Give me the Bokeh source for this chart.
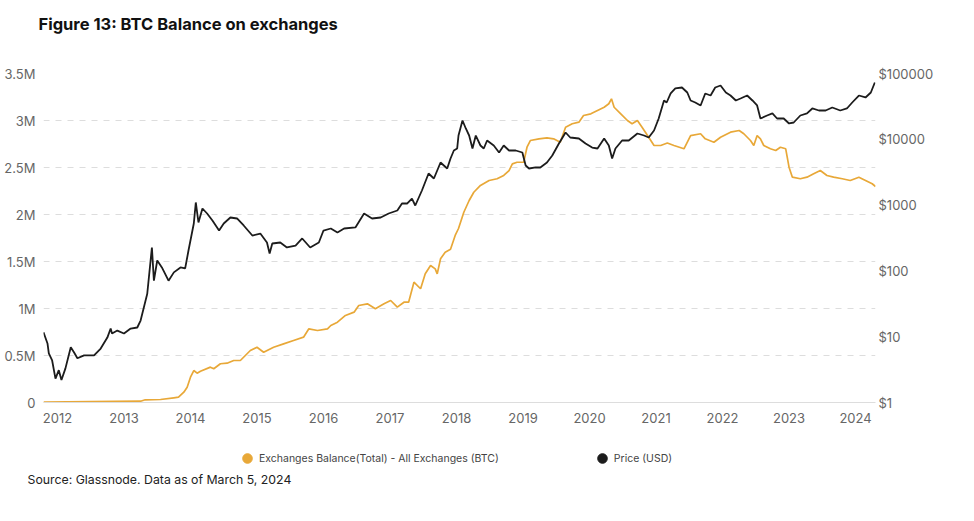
from bokeh.plotting import figure
from bokeh.layouts import column
from bokeh.models import (Range1d, LogScale, LogAxis, FixedTicker, Legend, LegendItem, Title)
from bokeh.embed import file_html
from bokeh.resources import INLINE

# ---- data ----
price_year = [2011.79, 2011.85, 2011.87, 2011.92, 2011.97, 2012.02, 2012.06, 2012.12, 2012.20, 2012.25,
              2012.30, 2012.40, 2012.55, 2012.65, 2012.75, 2012.80, 2012.82, 2012.90, 2013.00, 2013.10,
              2013.20, 2013.25, 2013.35, 2013.42, 2013.45, 2013.50, 2013.57, 2013.67, 2013.75, 2013.85,
              2013.92, 2013.97, 2014.05, 2014.08, 2014.12, 2014.18, 2014.25, 2014.33, 2014.43, 2014.50,
              2014.60, 2014.70, 2014.80, 2014.93, 2015.05, 2015.15, 2015.19, 2015.23, 2015.35, 2015.45,
              2015.58, 2015.68, 2015.80, 2015.93, 2016.00, 2016.11, 2016.21, 2016.31, 2016.48, 2016.61,
              2016.73, 2016.86, 2016.98, 2017.11, 2017.18, 2017.26, 2017.33, 2017.38, 2017.48, 2017.58,
              2017.66, 2017.76, 2017.86, 2017.91, 2017.96, 2018.01, 2018.03, 2018.09, 2018.14, 2018.19,
              2018.24, 2018.29, 2018.36, 2018.41, 2018.46, 2018.56, 2018.64, 2018.71, 2018.79, 2018.89,
              2018.99, 2019.04, 2019.09, 2019.19, 2019.26, 2019.36, 2019.44, 2019.54, 2019.64, 2019.71,
              2019.84, 2019.94, 2020.04, 2020.12, 2020.22, 2020.29, 2020.34, 2020.39, 2020.49, 2020.59,
              2020.72, 2020.82, 2020.89, 2020.97, 2021.04, 2021.12, 2021.16, 2021.22, 2021.29, 2021.39,
              2021.47, 2021.52, 2021.59, 2021.67, 2021.74, 2021.82, 2021.89, 2021.97, 2022.05, 2022.12,
              2022.20, 2022.27, 2022.37, 2022.45, 2022.52, 2022.57, 2022.67, 2022.75, 2022.82, 2022.92,
              2023.00, 2023.07, 2023.17, 2023.27, 2023.35, 2023.45, 2023.55, 2023.65, 2023.77, 2023.87,
              2023.95, 2024.05, 2024.15, 2024.23, 2024.29]
price_usd = [11.7, 7.9, 5.6, 4.35, 2.3, 3.1, 2.2, 3.3, 6.9, 5.75,
             4.7, 5.2, 5.2, 6.6, 9.7, 13.3, 11.2, 12.4, 11.2, 13.3,
             13.8, 17.6, 45, 227, 71, 144, 113, 71, 95, 113,
             109, 204, 525, 1096, 544, 888, 745, 583, 411, 525,
             648, 626, 490, 345, 370, 270, 184, 261, 270, 227,
             243, 311, 227, 270, 411, 441, 383, 441, 457, 745,
             626, 648, 745, 828, 1058, 1058, 1259, 986, 1667, 3020,
             2536, 4440, 3600, 5110, 6760, 7250, 11420, 19300, 14600, 11420,
             7250, 11420, 8050, 7250, 9590, 8050, 6300, 8050, 6760, 6760,
             6300, 4000, 3600, 3730, 3730, 4440, 5670, 8630, 12690, 10650,
             10280, 8630, 7500, 7250, 10280, 8050, 5110, 7250, 9590, 9590,
             12250, 11420, 10650, 13600, 20700, 38900, 36250, 49700, 59200, 61300,
             51400, 38900, 36250, 32650, 49700, 46300, 61300, 65700, 51400, 46300,
             38900, 41700, 46300, 38900, 32650, 20700, 23000, 24700, 20700, 20700,
             17400, 18000, 23000, 24700, 29400, 27400, 27400, 30400, 27400, 29400,
             36250, 46300, 43200, 51400, 73000]

bal_year = [2011.79, 2012.50, 2013.25, 2013.32, 2013.55, 2013.75, 2013.82, 2013.90, 2013.95, 2014.00,
            2014.05, 2014.10, 2014.15, 2014.30, 2014.35, 2014.45, 2014.55, 2014.65, 2014.75, 2014.90,
            2015.00, 2015.10, 2015.25, 2015.40, 2015.55, 2015.70, 2015.78, 2015.91, 2016.06, 2016.11,
            2016.21, 2016.33, 2016.46, 2016.53, 2016.66, 2016.78, 2016.91, 2017.01, 2017.11, 2017.21,
            2017.28, 2017.36, 2017.46, 2017.53, 2017.61, 2017.68, 2017.71, 2017.76, 2017.83, 2017.91,
            2017.98, 2018.03, 2018.11, 2018.19, 2018.26, 2018.36, 2018.49, 2018.61, 2018.71, 2018.79,
            2018.84, 2018.91, 2019.01, 2019.06, 2019.11, 2019.24, 2019.36, 2019.46, 2019.56, 2019.64,
            2019.74, 2019.84, 2019.91, 2020.02, 2020.12, 2020.22, 2020.29, 2020.33, 2020.37, 2020.47,
            2020.57, 2020.64, 2020.72, 2020.79, 2020.89, 2020.97, 2021.07, 2021.17, 2021.27, 2021.42,
            2021.52, 2021.67, 2021.74, 2021.87, 2021.97, 2022.12, 2022.25, 2022.32, 2022.42, 2022.47,
            2022.52, 2022.57, 2022.62, 2022.72, 2022.80, 2022.87, 2022.95, 2023.00, 2023.05, 2023.17,
            2023.27, 2023.37, 2023.47, 2023.57, 2023.67, 2023.80, 2023.92, 2024.05, 2024.15, 2024.25,
            2024.30]
bal_btc = [3000, 10600, 13800, 28700, 31900, 50000, 56400, 110000, 163000, 269000,
           340000, 312000, 333000, 376000, 359000, 412000, 418000, 447000, 447000, 553000,
           588000, 535000, 588000, 624000, 660000, 695000, 784000, 766000, 784000, 819000,
           854000, 926000, 961000, 1032000, 1050000, 997000, 1050000, 1085000, 1014000, 1067000,
           1067000, 1280000, 1210000, 1369000, 1457000, 1422000, 1369000, 1529000, 1599000, 1630000,
           1777000, 1851000, 2024000, 2149000, 2237000, 2309000, 2362000, 2380000, 2415000, 2468000,
           2539000, 2556000, 2556000, 2716000, 2787000, 2805000, 2816000, 2805000, 2769000, 2929000,
           2965000, 2982000, 3053000, 3071000, 3106000, 3141000, 3178000, 3231000, 3141000, 3071000,
           3000000, 2965000, 3000000, 2929000, 2822000, 2734000, 2734000, 2760000, 2734000, 2699000,
           2840000, 2859000, 2805000, 2769000, 2822000, 2876000, 2894000, 2859000, 2787000, 2734000,
           2840000, 2805000, 2734000, 2699000, 2681000, 2716000, 2699000, 2503000, 2397000, 2380000,
           2397000, 2433000, 2468000, 2415000, 2397000, 2380000, 2362000, 2397000, 2362000, 2327000,
           2298000]

year_ticks = [2012, 2013, 2014, 2015, 2016, 2017, 2018, 2019, 2020, 2021, 2022, 2023, 2024]
bal_ticks = [0, 500000, 1000000, 1500000, 2000000, 2500000, 3000000, 3500000]
bal_tick_labels = ["0", "0.5M", "1M", "1.5M", "2M", "2.5M", "3M", "3.5M"]
price_ticks = [1, 10, 100, 1000, 10000, 100000]
price_tick_labels = ["$1", "$10", "$100", "$1000", "$10000", "$100000"]

series_names = ["Exchanges Balance(Total) - All Exchanges (BTC)", "Price (USD)"]
title_text = "Figure 13: BTC Balance on exchanges"
source_text = "Source: Glassnode. Data as of March 5, 2024"

ORANGE = "#E8A838"
BLACK = "#1c1c1c"
FONT = "Inter"
GREY = "#666666"
FW = 832


def blank(frame_h, top, bottom):
    f = figure(frame_width=FW, frame_height=frame_h, output_backend="svg", toolbar_location=None,
               title=None, x_range=Range1d(0, 1), y_range=Range1d(0, 1),
               x_axis_type=None, y_axis_type=None,
               min_border_left=43, min_border_right=90,
               min_border_top=top, min_border_bottom=bottom,
               background_fill_color="white", border_fill_color="white", outline_line_color=None)
    f.xgrid.visible = False
    f.ygrid.visible = False
    return f


# ---- header with title ----
head = blank(1, 38, 0)
head.add_layout(Title(text=title_text, align="left", offset=-5, text_font=FONT,
                      text_font_size="16.5px", text_font_style="bold", text_color="#111111"),
                "above")

# ---- main chart ----
p = figure(frame_width=FW, frame_height=329, output_backend="svg", toolbar_location=None,
           title=None,
           x_range=Range1d(2011.79, 2024.30), y_range=Range1d(0, 3500000),
           min_border_left=43, min_border_right=90, min_border_top=34, min_border_bottom=28,
           background_fill_color="white", border_fill_color="white", outline_line_color=None)

p.extra_y_ranges = {"price": Range1d(1, 100000)}
p.extra_y_scales = {"price": LogScale()}

p.line(bal_year, bal_btc, line_color=ORANGE, line_width=1.7)
p.line(price_year, price_usd, line_color=BLACK, line_width=1.8, y_range_name="price")

p.xgrid.grid_line_color = None
p.ygrid.ticker = FixedTicker(ticks=bal_ticks)
p.ygrid.grid_line_color = "#dddddd"
p.ygrid.grid_line_dash = "6 6"
p.ygrid.grid_line_width = 1

xa = p.xaxis[0]
xa.ticker = FixedTicker(ticks=year_ticks)
xa.major_label_overrides = {y: str(y) for y in year_ticks}
xa.axis_line_color = "#dddddd"
xa.major_tick_out = 0
xa.major_tick_in = 0
xa.minor_tick_out = 0
xa.minor_tick_in = 0
xa.major_label_standoff = 10
xa.major_label_text_font = FONT
xa.major_label_text_font_size = "13px"
xa.major_label_text_color = GREY

ya = p.yaxis[0]
ya.ticker = FixedTicker(ticks=bal_ticks)
ya.major_label_overrides = {t: l for t, l in zip(bal_ticks, bal_tick_labels)}
ya.axis_line_color = None
ya.major_tick_out = 0
ya.major_tick_in = 0
ya.minor_tick_out = 0
ya.minor_tick_in = 0
ya.major_label_standoff = 8
ya.major_label_text_font = FONT
ya.major_label_text_font_size = "13px"
ya.major_label_text_color = GREY

ra = LogAxis(y_range_name="price", ticker=FixedTicker(ticks=price_ticks))
ra.major_label_overrides = {t: l for t, l in zip(price_ticks, price_tick_labels)}
ra.axis_line_color = None
ra.major_tick_out = 0
ra.major_tick_in = 0
ra.minor_tick_out = 0
ra.minor_tick_in = 0
ra.major_label_standoff = 3
ra.major_label_text_font = FONT
ra.major_label_text_font_size = "13px"
ra.major_label_text_color = GREY
p.add_layout(ra, "right")

# ---- footer with legend and source ----
foot = blank(34, 0, 30)
# legend swatches: one point each, kept outside the visible range
d1 = foot.scatter([-10], [-10], size=9, fill_color=ORANGE, line_color=ORANGE)
d2 = foot.scatter([-10], [-10], size=9, fill_color=BLACK, line_color=BLACK)
legend = Legend(items=[LegendItem(label=series_names[0], renderers=[d1]),
                       LegendItem(label=series_names[1], renderers=[d2])],
                orientation="horizontal", location=(192, -6),
                spacing=91, glyph_width=24, glyph_height=24, label_standoff=0,
                label_height=12,
                label_text_font=FONT, label_text_font_size="10.5px", label_text_color="#444444",
                border_line_color=None, background_fill_alpha=0,
                margin=0, padding=0)
foot.add_layout(legend, "center")
foot.add_layout(Title(text=source_text, align="left", offset=-16, text_font=FONT,
                      text_font_size="12.3px", text_font_style="normal", text_color="#222222"),
                "below")

layout = column(head, p, foot, spacing=0)

open("out.html", "w").write(file_html(layout, INLINE))
